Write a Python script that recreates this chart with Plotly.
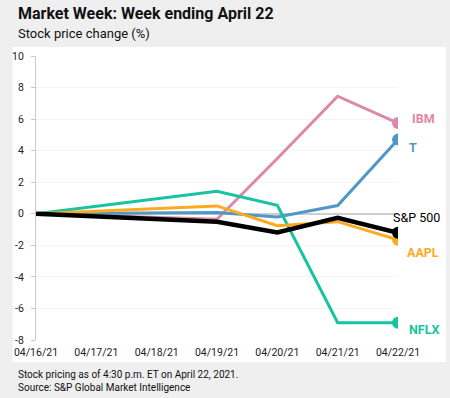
import plotly.graph_objects as go

dates = ["2021-04-16", "2021-04-19", "2021-04-20", "2021-04-21", "2021-04-22"]
tick_dates = ["2021-04-16", "2021-04-17", "2021-04-18", "2021-04-19", "2021-04-20", "2021-04-21", "2021-04-22"]
tick_labels = ["04/16/21", "04/17/21", "04/18/21", "04/19/21", "04/20/21", "04/21/21", "04/22/21"]
y_ticks = [-8, -6, -4, -2, 0, 2, 4, 6, 8, 10]
y_tick_labels = ["-8", "-6", "-4", "-2", "0", "2", "4", "6", "8", "10"]

ibm = [0, -0.35, 3.5, 7.45, 5.75]
t_vals = [0, 0.08, -0.2, 0.52, 4.7]
aapl = [0, 0.5, -0.76, -0.5, -1.65]
nflx = [0, 1.43, 0.54, -6.9, -6.9]
spx = [0, -0.5, -1.18, -0.26, -1.2]

series = [
    ("IBM", ibm, "#dd88a7", 3, True),
    ("T", t_vals, "#4f98c5", 3, True),
    ("NFLX", nflx, "#17c3a0", 3, True),
    ("AAPL", aapl, "#ffa91e", 3, True),
    ("S&P 500", spx, "#000000", 4.5, False),
]

fig = go.Figure()
for name, vals, color, w, bold in series:
    fig.add_trace(go.Scatter(
        x=dates, y=vals, mode="lines", name=name,
        line=dict(color=color, width=w), hoverinfo="skip"))
    fig.add_trace(go.Scatter(
        x=[dates[-1]], y=[vals[-1]], mode="markers",
        marker=dict(color=color, size=12), hoverinfo="skip"))

label_pos = {
    "IBM": (25, 5),
    "T": (15, -8),
    "S&P 500": (18, 15),
    "AAPL": (25, -13),
    "NFLX": (26, -7),
}
for name, vals, color, w, bold in series:
    dx, dy = label_pos[name]
    txt = f"<b>{name}</b>" if bold else name
    fig.add_annotation(x=dates[-1], y=vals[-1], text=txt, showarrow=False,
                       xshift=dx, yshift=dy, xanchor="center",
                       font=dict(color=color, size=12.5, family="Roboto"))

fig.add_shape(type="rect", xref="paper", yref="paper", layer="below",
              x0=-24/371, x1=420/371, y0=-22/284, y1=(340-47)/284,
              fillcolor="white", line=dict(width=0))

fig.add_annotation(text="<b>Market Week: Week ending April 22</b>", xref="paper", yref="paper",
                   x=-20/371, y=(340-14)/284, xanchor="left", yanchor="middle", showarrow=False,
                   font=dict(size=16, color="#111", family="Roboto"))
fig.add_annotation(text="Stock price change (%)", xref="paper", yref="paper",
                   x=-20/371, y=(340-33)/284, xanchor="left", yanchor="middle", showarrow=False,
                   font=dict(size=13, color="#111", family="Roboto"))
fig.add_annotation(text="Stock pricing as of 4:30 p.m. ET on April 22, 2021.<br>Source: S&P Global Market Intelligence",
                   xref="paper", yref="paper", x=-20/371, y=(340-381)/284,
                   xanchor="left", yanchor="middle", align="left", showarrow=False,
                   font=dict(size=10, color="#111", family="Roboto"))

fig.update_layout(
    width=450, height=398,
    margin=dict(l=27, r=52, t=56, b=58),
    paper_bgcolor="#efefef", plot_bgcolor="white",
    showlegend=False,
    font=dict(family="Roboto", color="#222", size=10),
)
fig.update_xaxes(
    type="date", range=["2021-04-16", "2021-04-22"],
    tickvals=tick_dates, ticktext=tick_labels,
    showgrid=False, showline=False, zeroline=False,
    ticks="outside", ticklen=2, tickcolor="rgba(0,0,0,0)",
    tickfont=dict(size=10.5, color="#222"),
)
fig.update_yaxes(
    range=[-8, 10], tickvals=y_ticks, ticktext=y_tick_labels,
    showgrid=True, gridcolor="#f4f4f4",
    zeroline=True, zerolinecolor="#cfcfcf", zerolinewidth=2,
    showline=True, linecolor="#c8c8c8", linewidth=1,
    ticks="outside", ticklen=4, tickcolor="#c8c8c8", ticklabelstandoff=5,
    tickfont=dict(size=10.5, color="#222"),
)

fig.write_html("out.html", config={"displayModeBar": False},
               post_script="document.body.style.margin='0';document.body.style.overflow='hidden';")
